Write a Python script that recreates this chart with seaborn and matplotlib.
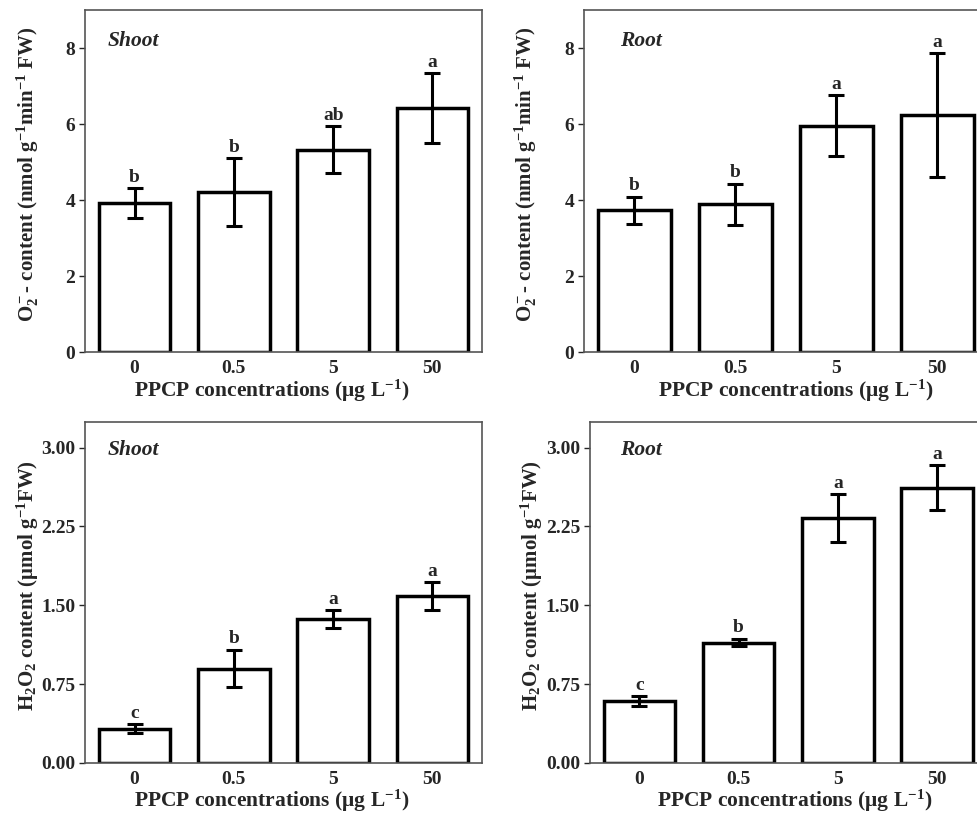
import numpy as np
import pandas as pd
import matplotlib
matplotlib.use("Agg")
import matplotlib.pyplot as plt
import seaborn as sns

# PPCP concentration levels (ug/L)
conc = ["0", "0.5", "5", "50"]

# superoxide, shoot / root (mean, SE, letters)
o2_shoot = [3.92, 4.22, 5.32, 6.43]
o2_shoot_se = [0.39, 0.89, 0.62, 0.92]
o2_shoot_sig = ["b", "b", "ab", "a"]

o2_root = [3.73, 3.89, 5.96, 6.24]
o2_root_se = [0.36, 0.54, 0.80, 1.62]
o2_root_sig = ["b", "b", "a", "a"]

# hydrogen peroxide, shoot / root
h2o2_shoot = [0.327, 0.898, 1.367, 1.586]
h2o2_shoot_se = [0.04, 0.18, 0.085, 0.135]
h2o2_shoot_sig = ["c", "b", "a", "a"]

h2o2_root = [0.589, 1.146, 2.33, 2.62]
h2o2_root_se = [0.045, 0.037, 0.23, 0.21]
h2o2_root_sig = ["c", "b", "a", "a"]

o2_ticks = [0, 2, 4, 6, 8]
h2o2_ticks = [0.0, 0.75, 1.5, 2.25, 3.0]

sns.set_theme(style="ticks")
plt.rcParams["font.family"] = ["Liberation Serif", "DejaVu Serif"]
plt.rcParams["font.weight"] = "bold"
plt.rcParams["axes.labelweight"] = "bold"
plt.rcParams["mathtext.fontset"] = "custom"
plt.rcParams["mathtext.rm"] = "Liberation Serif:bold"
plt.rcParams["mathtext.it"] = "Liberation Serif:bold:italic"
plt.rcParams["mathtext.bf"] = "Liberation Serif:bold"

o2_label = r"O$_2^-$- content (nmol g$^{-1}$min$^{-1}$ FW)"
h2o2_label = r"H$_2$O$_2$ content (μmol g$^{-1}$FW)"
x_label = r"PPCP concentrations (μg L$^{-1}$)"

fig = plt.figure(figsize=(9.78, 8.16), dpi=100)


def panel(rect, vals, se, sig, tissue, tpos, ylabel, ticks, ylim, fmt, xlab_x):
    ax = fig.add_axes(rect)
    df = pd.DataFrame({"conc": conc, "value": vals})
    sns.barplot(
        data=df, x="conc", y="value", order=conc,
        color="white", edgecolor="black", linewidth=2.5,
        width=0.72, saturation=1, errorbar=None, ax=ax
    )
    ax.errorbar(
        np.arange(len(conc)), vals, yerr=se,
        fmt="none", ecolor="black", elinewidth=2.2,
        capsize=6, capthick=2.2
    )
    for i, s in enumerate(sig):
        ax.annotate(
            s, (i, vals[i] + se[i]), xytext=(0, 4.5),
            textcoords="offset points", ha="center", va="baseline",
            fontsize=14, fontweight="bold"
        )
    ax.text(tpos[0], tpos[1], tissue, transform=ax.transAxes,
            fontsize=15.5, fontweight="bold", fontstyle="italic",
            va="center", ha="left")
    ax.set_xlim(-0.5, 3.5)
    ax.set_ylim(*ylim)
    ax.set_yticks(ticks)
    ax.set_yticklabels([fmt.format(t) for t in ticks])
    ax.set_xlabel(x_label, fontsize=15.5, labelpad=0)
    ax.xaxis.label.set_x(xlab_x)
    ax.set_ylabel(ylabel, fontsize=15)
    ax.yaxis.set_label_coords(-0.112, 0.52)
    ax.tick_params(axis="y", direction="out", length=4, width=1,
                   labelsize=14, pad=3)
    ax.tick_params(axis="x", length=0, labelsize=14, pad=6)
    for sp in ax.spines.values():
        sp.set_visible(True)
        sp.set_color("#555555")
        sp.set_linewidth(1.2)
    return ax


panel([0.0869, 0.5686, 0.406, 0.419], o2_shoot, o2_shoot_se, o2_shoot_sig,
      "Shoot", (0.058, 0.91), o2_label, o2_ticks, (0, 9), "{:g}", 0.47)
panel([0.597, 0.5686, 0.413, 0.419], o2_root, o2_root_se, o2_root_sig,
      "Root", (0.089, 0.91), o2_label, o2_ticks, (0, 9), "{:g}", 0.525)
panel([0.0869, 0.065, 0.406, 0.418], h2o2_shoot, h2o2_shoot_se, h2o2_shoot_sig,
      "Shoot", (0.058, 0.918), h2o2_label, h2o2_ticks, (0, 3.245), "{:.2f}", 0.47)
panel([0.603, 0.065, 0.406, 0.418], h2o2_root, h2o2_root_se, h2o2_root_sig,
      "Root", (0.076, 0.918), h2o2_label, h2o2_ticks, (0, 3.245), "{:.2f}", 0.516)

fig.savefig("out.png", dpi=100)
